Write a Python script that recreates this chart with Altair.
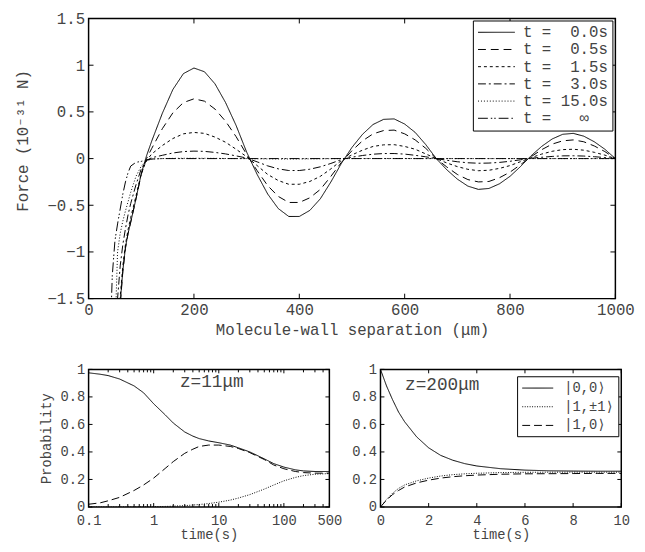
import altair as alt
import pandas as pd

FONT = "Liberation Mono, DejaVu Sans Mono, DejaVu Sans"
GRAY = "#444444"

# ---------------- top panel data ----------------
sep = [40, 45, 50, 55, 60, 65, 70, 75, 80, 90, 100, 110, 120, 140, 160, 180, 200,
       220, 240, 260, 280, 300, 320, 340, 360, 380, 400, 420, 440, 460, 480, 500,
       520, 540, 560, 580, 600, 620, 640, 660, 680, 700, 720, 740, 760, 780, 800,
       820, 840, 860, 880, 900, 920, 940, 960, 980, 1000]

f_t00 = [-4.0, -3.4, -2.9, -2.3, -1.55, -1.2, -0.95, -0.8, -0.68, -0.43, -0.16, 0.03, 0.19,
         0.485, 0.74, 0.91, 0.97, 0.93, 0.80, 0.60, 0.355, 0.07, -0.17, -0.38, -0.535, -0.62,
         -0.62, -0.555, -0.43, -0.25, -0.05, 0.12, 0.26, 0.365, 0.42, 0.425, 0.37, 0.28, 0.15,
         0.0, -0.12, -0.22, -0.295, -0.33, -0.32, -0.27, -0.19, -0.085, 0.03, 0.13, 0.21,
         0.26, 0.27, 0.24, 0.18, 0.10, 0.0]
f_t05 = [-4.0, -3.4, -2.9, -2.3, -1.57, -1.21, -0.96, -0.8, -0.68, -0.43, -0.17, 0.0, 0.11,
         0.32, 0.49, 0.60, 0.64, 0.615, 0.53, 0.40, 0.235, 0.045, -0.13, -0.29, -0.405, -0.47,
         -0.47, -0.42, -0.33, -0.19, -0.04, 0.085, 0.19, 0.265, 0.30, 0.305, 0.265, 0.20, 0.11,
         0.0, -0.09, -0.17, -0.225, -0.25, -0.245, -0.205, -0.145, -0.065, 0.02, 0.095, 0.155,
         0.19, 0.20, 0.18, 0.135, 0.075, 0.0]
f_t15 = [-3.6, -3.0, -2.5, -2.0, -1.48, -1.15, -0.92, -0.76, -0.63, -0.40, -0.16, -0.02, 0.05,
         0.14, 0.215, 0.265, 0.28, 0.27, 0.23, 0.175, 0.10, 0.02, -0.075, -0.17, -0.235, -0.275,
         -0.275, -0.245, -0.19, -0.11, -0.02, 0.04, 0.09, 0.13, 0.147, 0.149, 0.13, 0.10, 0.05,
         0.0, -0.047, -0.086, -0.115, -0.13, -0.125, -0.105, -0.075, -0.033, 0.01, 0.048, 0.078,
         0.096, 0.10, 0.09, 0.067, 0.037, 0.0]
f_t30 = [-3.2, -2.6, -2.1, -1.5, -1.15, -0.92, -0.75, -0.6, -0.48, -0.28, -0.11, -0.02, 0.01,
         0.035, 0.06, 0.075, 0.08, 0.077, 0.066, 0.05, 0.029, 0.006, -0.035, -0.078, -0.11, -0.128,
         -0.128, -0.114, -0.088, -0.052, -0.01, 0.015, 0.033, 0.047, 0.054, 0.054, 0.048, 0.035,
         0.019, 0.0, -0.018, -0.034, -0.045, -0.05, -0.048, -0.041, -0.029, -0.013, 0.004, 0.014,
         0.023, 0.029, 0.03, 0.027, 0.02, 0.011, 0.0]
f_t150 = [-3.0, -2.4, -1.9, -1.0, -0.8, -0.67, -0.56, -0.46, -0.36, -0.19, -0.08, -0.025, -0.005,
          0.0, 0.002, 0.003, 0.003, 0.003, 0.002, 0.001, 0.0, 0.0, -0.002, -0.003, -0.004, -0.004,
          -0.004, -0.003, -0.002, -0.001, 0.0, 0.0, 0.001, 0.001, 0.001, 0.001, 0.001, 0.0, 0.0,
          0.0, 0.0, 0.0, 0.0, 0.0, 0.0, 0.0, 0.0, 0.0, 0.0, 0.0, 0.0, 0.0, 0.0, 0.0, 0.0, 0.0, 0.0]
f_tinf = [-2.1, -1.25, -0.88, -0.7, -0.54, -0.38, -0.25, -0.15, -0.08, -0.04, -0.03, -0.015, -0.005,
          0.0, 0.0, 0.0, 0.0, 0.0, 0.0, 0.0, 0.0, 0.0, 0.0, 0.0, 0.0, 0.0, 0.0, 0.0, 0.0, 0.0, 0.0,
          0.0, 0.0, 0.0, 0.0, 0.0, 0.0, 0.0, 0.0, 0.0, 0.0, 0.0, 0.0, 0.0, 0.0, 0.0, 0.0, 0.0, 0.0,
          0.0, 0.0, 0.0, 0.0, 0.0, 0.0, 0.0, 0.0]

NB = "\u00a0"
top_labels = [f"t{NB}={NB}{NB}0.0s", f"t{NB}={NB}{NB}0.5s", f"t{NB}={NB}{NB}1.5s",
              f"t{NB}={NB}{NB}3.0s", f"t{NB}={NB}15.0s", f"t{NB}={NB}{NB}{NB}\u221e"]
top_series = [f_t00, f_t05, f_t15, f_t30, f_t150, f_tinf]
top_dashes = [[1, 0], [8, 5], [3, 3], [8, 3, 2, 3], [1, 2], [10, 3, 1.5, 2, 1.5, 3]]

top_xticks = [0, 200, 400, 600, 800, 1000]
top_yticks = [-1.5, -1, -0.5, 0, 0.5, 1, 1.5]

# ---------------- bottom-left data (z = 11 um, log time) ----------------
t_log = [0.1, 0.15, 0.2, 0.3, 0.5, 0.7, 1, 1.5, 2, 3, 4, 5, 7, 10, 15, 20, 30, 50, 70,
         100, 150, 200, 300, 500]
bl_00 = [0.975, 0.965, 0.955, 0.93, 0.88, 0.83, 0.75, 0.67, 0.61, 0.545, 0.515, 0.497, 0.48,
         0.467, 0.45, 0.43, 0.40, 0.35, 0.315, 0.29, 0.27, 0.262, 0.258, 0.258]
bl_11 = [0.0, 0.0, 0.0, 0.0, 0.001, 0.001, 0.002, 0.004, 0.006, 0.01, 0.014, 0.018, 0.025,
         0.035, 0.05, 0.065, 0.09, 0.13, 0.16, 0.19, 0.215, 0.228, 0.238, 0.243]
bl_10 = [0.02, 0.03, 0.045, 0.07, 0.12, 0.16, 0.21, 0.28, 0.33, 0.39, 0.42, 0.44, 0.45,
         0.45, 0.44, 0.425, 0.395, 0.345, 0.305, 0.278, 0.258, 0.25, 0.246, 0.246]
bl_xticks = [0.1, 1, 10, 100, 500]
bl_xminor = [0.2, 0.3, 0.4, 0.5, 0.6, 0.7, 0.8, 0.9, 2, 3, 4, 5, 6, 7, 8, 9,
             20, 30, 40, 50, 60, 70, 80, 90, 200, 300, 400]

# ---------------- bottom-right data (z = 200 um, linear time) ----------------
t_lin = [0, 0.25, 0.5, 0.75, 1, 1.5, 2, 2.5, 3, 3.5, 4, 5, 6, 7, 8, 9, 10]
br_00 = [1.0, 0.88, 0.78, 0.69, 0.62, 0.51, 0.43, 0.375, 0.34, 0.315, 0.298, 0.278, 0.268,
         0.263, 0.261, 0.26, 0.26]
br_11 = [0.0, 0.055, 0.1, 0.135, 0.16, 0.19, 0.21, 0.225, 0.235, 0.241, 0.245, 0.25, 0.252,
         0.253, 0.253, 0.253, 0.253]
br_10 = [0.0, 0.05, 0.09, 0.12, 0.145, 0.175, 0.195, 0.21, 0.22, 0.227, 0.232, 0.238, 0.241,
         0.242, 0.243, 0.244, 0.244]
br_xticks = [0, 2, 4, 6, 8, 10]
prob_yticks = [0, 0.2, 0.4, 0.6, 0.8, 1]

state_labels = ["|0,0\u27e9", "|1,\u00b11\u27e9", "|1,0\u27e9"]
state_dashes = [[1, 0], [1, 1.5], [8, 4]]


def long_df(xs, series, labels):
    rows = []
    for lab, ys in zip(labels, series):
        for x, y in zip(xs, ys):
            rows.append({"x": x, "y": y, "s": lab})
    return pd.DataFrame(rows)


def tick_layers(xvals, yvals, xenc, yenc, W, H, L):
    dx = pd.DataFrame({"x": xvals})
    dy = pd.DataFrame({"y": yvals})
    base_x = alt.Chart(dx).mark_rule(color="black", strokeWidth=1)
    base_y = alt.Chart(dy).mark_rule(color="black", strokeWidth=1)
    return [
        base_x.encode(x=xenc, y=alt.value(H), y2=alt.value(H - L)),
        base_x.encode(x=xenc, y=alt.value(0), y2=alt.value(L)),
        base_y.encode(y=yenc, x=alt.value(0), x2=alt.value(L)),
        base_y.encode(y=yenc, x=alt.value(W), x2=alt.value(W - L)),
    ]


LBL = "format(datum.value, '~g')"


def legend(x, y, size, path, offset, label_offset, row_pad, fsize):
    return alt.Legend(title=None, orient="none", legendX=x, legendY=y,
                      symbolType=path, symbolSize=size, symbolOffset=offset,
                      symbolStrokeWidth=1, symbolStrokeColor="black", symbolFillColor="transparent",
                      labelFont=FONT, labelFontSize=fsize, labelColor=GRAY,
                      strokeColor="black", fillColor="white",
                      padding=4, rowPadding=row_pad, labelOffset=label_offset)


def axis(vals, fsize, pad, title, tsize, tpad, **extra):
    kw = dict(values=vals, ticks=False, domain=False, grid=False, labelFlush=False,
              labelExpr=LBL, labelFontSize=fsize, labelPadding=pad, title=title)
    if title is not None:
        kw.update(titleFontSize=tsize, titlePadding=tpad)
    kw.update(extra)
    return alt.Axis(**kw)


# ---------- top ----------
TW, TH = 536, 285
tX = alt.X("x:Q", scale=alt.Scale(domain=[0, 1000], nice=False),
           axis=axis(top_xticks, 16, 3, "Molecule-wall separation (\u03bcm)", 16, 4))
tY = alt.Y("y:Q", scale=alt.Scale(domain=[-1.5, 1.5], nice=False),
           axis=axis(top_yticks, 16, 4, "Force (10\u207b\u00b3\u00b9 N)", 16, 17, titleY=124))
top_df = long_df(sep, top_series, top_labels)
top_lines = alt.Chart(top_df).mark_line(color="black", strokeWidth=1, clip=True).encode(
    x=tX, y=tY,
    strokeDash=alt.StrokeDash("s:N", scale=alt.Scale(domain=top_labels, range=top_dashes),
                              legend=legend(391, 2, 225, "M-2.5,0H2.5", 12, 19, 1.5, 16)),
)
top = alt.layer(top_lines, *tick_layers(top_xticks, top_yticks, tX, tY, TW, TH, 5)).properties(
    width=TW, height=TH)

# ---------- bottom left ----------
BW, BH = 245, 140
blX = alt.X("x:Q", scale=alt.Scale(type="log", domain=[0.1, 500], nice=False),
            axis=axis(bl_xticks, 14, 7, "time(s)", 14, 0))
blY = alt.Y("y:Q", scale=alt.Scale(domain=[0, 1], nice=False),
            axis=axis(prob_yticks, 14, 4, "Probability", 14, 7))
bl_df = long_df(t_log, [bl_00, bl_11, bl_10], state_labels)
bl_lines = alt.Chart(bl_df).mark_line(color="black", strokeWidth=1, clip=True).encode(
    x=blX, y=blY,
    strokeDash=alt.StrokeDash("s:N", scale=alt.Scale(domain=state_labels, range=state_dashes),
                              legend=None),
)
bl_text = alt.Chart(pd.DataFrame({"label": ["z=11\u03bcm"]})).mark_text(
    font=FONT, fontSize=18, color=GRAY, align="left", baseline="middle").encode(
    text="label:N", x=alt.value(93), y=alt.value(13))
bl_minor = alt.Chart(pd.DataFrame({"x": bl_xminor})).mark_rule(color="black", strokeWidth=1)
bl = alt.layer(
    bl_lines, bl_text,
    *tick_layers(bl_xticks, prob_yticks, blX, blY, BW, BH, 4),
    bl_minor.encode(x=blX, y=alt.value(BH), y2=alt.value(BH - 3)),
    bl_minor.encode(x=blX, y=alt.value(0), y2=alt.value(3)),
).properties(width=BW, height=BH)

# ---------- bottom right ----------
brX = alt.X("x:Q", scale=alt.Scale(domain=[0, 10], nice=False),
            axis=axis(br_xticks, 14, 7, "time(s)", 14, 0))
brY = alt.Y("y:Q", scale=alt.Scale(domain=[0, 1], nice=False),
            axis=axis(prob_yticks, 14, 4, None, 14, 0))
br_df = long_df(t_lin, [br_00, br_11, br_10], state_labels)
br_lines = alt.Chart(br_df).mark_line(color="black", strokeWidth=1, clip=True).encode(
    x=brX, y=brY,
    strokeDash=alt.StrokeDash("s:N", scale=alt.Scale(domain=state_labels, range=state_dashes),
                              legend=legend(139, 7, 225, "M-2.1,0H2.1", 9, 19, 4, 14)),
)
br_text = alt.Chart(pd.DataFrame({"label": ["z=200\u03bcm"]})).mark_text(
    font=FONT, fontSize=18, color=GRAY, align="left", baseline="middle").encode(
    text="label:N", x=alt.value(25), y=alt.value(16))
br = alt.layer(br_lines, br_text, *tick_layers(br_xticks, prob_yticks, brX, brY, BW, BH, 4)).properties(
    width=BW, height=BH)

bottom = alt.hconcat(bl, br, spacing=52, bounds="flush").resolve_scale(
    strokeDash="independent").resolve_legend(strokeDash="independent")

chart = alt.vconcat(top, bottom, spacing=72, bounds="flush").resolve_scale(
    strokeDash="independent").resolve_legend(strokeDash="independent").properties(
    padding={"left": 5, "top": -3, "right": 2, "bottom": 0}, background="white"
).configure_view(stroke="black", strokeWidth=1.5).configure_axis(
    labelFont=FONT, titleFont=FONT, labelColor=GRAY, titleColor=GRAY, titleFontWeight="normal"
)

chart.save("out.html", embed_options={"renderer": "svg", "actions": False})
